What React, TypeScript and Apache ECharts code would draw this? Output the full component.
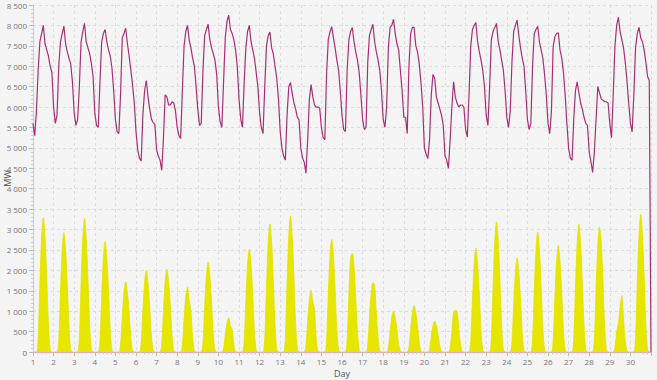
import React, { useEffect, useRef } from "react";
import * as echarts from "echarts";

// Day-of-month tick labels (1..30), axis runs to 31
const DAY_MIN = 1;
const DAY_MAX = 31;

// Electricity load (MW), sampled every 2 hours: 0h,2h,...,22h for each day
const load_d01 = [5600, 5300, 5900, 6900, 7600, 7800, 8000, 7550, 7400, 7250, 7000, 6850];
const load_d02 = [6000, 5600, 5800, 7000, 7600, 7800, 7980, 7550, 7350, 7190, 7050, 6600];
const load_d03 = [5850, 5550, 5700, 6500, 7600, 7850, 8050, 7600, 7450, 7310, 7070, 6750];
const load_d04 = [5850, 5550, 5500, 6600, 7600, 7800, 7900, 7600, 7400, 7250, 6950, 6400];
const load_d05 = [5700, 5400, 5350, 6300, 7700, 7800, 7930, 7550, 7250, 6900, 6550, 6100];
const load_d06 = [5400, 4950, 4750, 4680, 5800, 6400, 6650, 6250, 5950, 5700, 5620, 5580];
const load_d07 = [4950, 4800, 4700, 4450, 5250, 6300, 6250, 6050, 6050, 6130, 6100, 5900];
const load_d08 = [5500, 5300, 5230, 6400, 7500, 7850, 8000, 7640, 7450, 7190, 7000, 6500];
const load_d09 = [5950, 5550, 5600, 6900, 7750, 7900, 8030, 7650, 7450, 7310, 7150, 6800];
const load_d10 = [6000, 5650, 5500, 6600, 7700, 8100, 8250, 7900, 7800, 7650, 7400, 7000];
const load_d11 = [6200, 5700, 5500, 6600, 7450, 7850, 8000, 7600, 7400, 7200, 6850, 6500];
const load_d12 = [5850, 5500, 5350, 6500, 7500, 7750, 7840, 7450, 7300, 7000, 6700, 6200];
const load_d13 = [5400, 5000, 4800, 4700, 5800, 6500, 6600, 6330, 6100, 5950, 5750, 5680];
const load_d14 = [5000, 4750, 4650, 4380, 5200, 6200, 6550, 6250, 6050, 6000, 6000, 5970];
const load_d15 = [5500, 5250, 5200, 6800, 7650, 7840, 7970, 7700, 7450, 7150, 6900, 6400];
const load_d16 = [5800, 5450, 5400, 6900, 7650, 7850, 7950, 7600, 7350, 7150, 6850, 6300];
const load_d17 = [5700, 5450, 5500, 7100, 7750, 7900, 8030, 7600, 7350, 7150, 6900, 6400];
const load_d18 = [5700, 5500, 6000, 7450, 7950, 8000, 8150, 7800, 7550, 7400, 6900, 6400];
const load_d19 = [5750, 5750, 5350, 7000, 7800, 7950, 7950, 7500, 7350, 7050, 6600, 6000];
const load_d20 = [5000, 4850, 4740, 5200, 6300, 6800, 6700, 6250, 6100, 5950, 5800, 5550];
const load_d21 = [4800, 4700, 4500, 5200, 6000, 6620, 6250, 6100, 6000, 6050, 6050, 6000];
const load_d22 = [5450, 5270, 6300, 7500, 7900, 8000, 8070, 7600, 7350, 7150, 6900, 6500];
const load_d23 = [5800, 5550, 6500, 7650, 7850, 7950, 8050, 7600, 7400, 7150, 6900, 6400];
const load_d24 = [5750, 5500, 5900, 7100, 7850, 8000, 8130, 7750, 7450, 7200, 7000, 6400];
const load_d25 = [5700, 5450, 5600, 7000, 7800, 7900, 7980, 7600, 7400, 7200, 6800, 6300];
const load_d26 = [5600, 5350, 5900, 7480, 7720, 7800, 7820, 7400, 7200, 6850, 6300, 5600];
const load_d27 = [5000, 4750, 4700, 5700, 6400, 6620, 6350, 6100, 5950, 5750, 5600, 5550];
const load_d28 = [4900, 4660, 4400, 4900, 5700, 6500, 6350, 6200, 6170, 6130, 6130, 6100];
const load_d29 = [5600, 5250, 6300, 7500, 8000, 8200, 7850, 7650, 7450, 7100, 6650, 6100];
const load_d30 = [5600, 5390, 6300, 7450, 7800, 7950, 7700, 7600, 7400, 7100, 6750, 6650];
const load_end = 0;

// Solar generation (MW), same 2-hour sampling
const solar_d01 = [0, 0, 0, 330, 1650, 2800, 3290, 2800, 1810, 660, 70, 0];
const solar_d02 = [0, 0, 0, 290, 1460, 2490, 2925, 2490, 1610, 585, 60, 0];
const solar_d03 = [0, 0, 0, 330, 1640, 2780, 3270, 2780, 1800, 650, 65, 0];
const solar_d04 = [0, 0, 0, 270, 1350, 2300, 2700, 2300, 1490, 540, 55, 0];
const solar_d05 = [0, 0, 0, 170, 860, 1460, 1720, 1460, 950, 345, 35, 0];
const solar_d06 = [0, 0, 0, 200, 1000, 1690, 1990, 1690, 1090, 400, 40, 0];
const solar_d07 = [0, 0, 0, 200, 1015, 1730, 2030, 1730, 1120, 405, 40, 0];
const solar_d08 = [0, 0, 0, 160, 800, 1350, 1590, 1250, 1000, 350, 30, 0];
const solar_d09 = [0, 0, 0, 220, 1100, 1870, 2200, 1870, 1210, 440, 45, 0];
const solar_d10 = [0, 0, 0, 80, 420, 715, 840, 650, 560, 170, 15, 0];
const solar_d11 = [0, 0, 0, 250, 1260, 2140, 2520, 2140, 1390, 500, 50, 0];
const solar_d12 = [0, 0, 0, 310, 1570, 2670, 3140, 2670, 1730, 630, 60, 0];
const solar_d13 = [0, 0, 0, 330, 1670, 2830, 3330, 2830, 1830, 670, 65, 0];
const solar_d14 = [0, 0, 0, 150, 755, 1280, 1510, 1230, 1050, 300, 30, 0];
const solar_d15 = [0, 0, 0, 280, 1380, 2350, 2760, 2350, 1520, 550, 55, 0];
const solar_d16 = [0, 0, 0, 300, 1400, 2300, 2410, 2100, 1300, 480, 50, 0];
const solar_d17 = [0, 0, 0, 170, 850, 1450, 1700, 1640, 950, 340, 35, 0];
const solar_d18 = [0, 0, 0, 100, 500, 850, 1000, 850, 550, 200, 20, 0];
const solar_d19 = [0, 0, 0, 110, 570, 960, 1135, 960, 620, 230, 20, 0];
const solar_d20 = [0, 0, 0, 75, 380, 650, 760, 650, 420, 150, 15, 0];
const solar_d21 = [0, 0, 0, 100, 510, 980, 1020, 1000, 600, 200, 20, 0];
const solar_d22 = [0, 0, 0, 250, 1270, 2160, 2540, 2160, 1400, 510, 50, 0];
const solar_d23 = [0, 0, 0, 320, 1600, 2710, 3190, 2710, 1750, 640, 65, 0];
const solar_d24 = [0, 0, 0, 230, 1150, 1950, 2300, 1950, 1270, 460, 45, 0];
const solar_d25 = [0, 0, 0, 290, 1470, 2500, 2940, 2500, 1620, 590, 60, 0];
const solar_d26 = [0, 0, 0, 260, 1300, 2220, 2610, 2220, 1440, 520, 50, 0];
const solar_d27 = [0, 0, 0, 310, 1570, 2660, 3130, 2660, 1720, 630, 60, 0];
const solar_d28 = [0, 0, 0, 300, 1530, 2600, 3060, 2680, 1750, 610, 60, 0];
const solar_d29 = [0, 0, 0, 100, 500, 700, 1100, 1380, 800, 280, 30, 0];
const solar_d30 = [0, 0, 0, 340, 1690, 2860, 3370, 2860, 1850, 670, 65, 0];
const solar_end = 0;

const LOAD_DAYS = [
  load_d01, load_d02, load_d03, load_d04, load_d05, load_d06, load_d07, load_d08, load_d09, load_d10,
  load_d11, load_d12, load_d13, load_d14, load_d15, load_d16, load_d17, load_d18, load_d19, load_d20,
  load_d21, load_d22, load_d23, load_d24, load_d25, load_d26, load_d27, load_d28, load_d29, load_d30,
];
const SOLAR_DAYS = [
  solar_d01, solar_d02, solar_d03, solar_d04, solar_d05, solar_d06, solar_d07, solar_d08, solar_d09, solar_d10,
  solar_d11, solar_d12, solar_d13, solar_d14, solar_d15, solar_d16, solar_d17, solar_d18, solar_d19, solar_d20,
  solar_d21, solar_d22, solar_d23, solar_d24, solar_d25, solar_d26, solar_d27, solar_d28, solar_d29, solar_d30,
];

const SAMPLES_PER_DAY = 12;

function toPairs(days: number[][], endValue: number): [number, number][] {
  const out: [number, number][] = [];
  days.forEach((vals, d) => {
    vals.forEach((v, k) => {
      out.push([DAY_MIN + d + k / SAMPLES_PER_DAY, v]);
    });
  });
  out.push([DAY_MAX, endValue]);
  return out;
}

const fmt = (v: number) => String(v).replace(/\B(?=(\d{3})+(?!\d))/g, " ");

export default function App() {
  const ref = useRef<HTMLDivElement>(null);

  useEffect(() => {
    if (!ref.current) return;
    const chart = echarts.init(ref.current, undefined, { renderer: "svg" });
    const font = "'Open Sans', 'DejaVu Sans', sans-serif";
    chart.setOption({
      animation: false,
      backgroundColor: "#f4f4f4",
      textStyle: { fontFamily: font },
      grid: {
        left: 33,
        right: 6,
        top: 5,
        bottom: 28,
        containLabel: false,
        outerBoundsMode: "none",
      },
      xAxis: {
        type: "value",
        min: DAY_MIN,
        max: DAY_MAX,
        interval: 1,
        name: "Day",
        nameLocation: "middle",
        nameGap: 16,
        nameMoveOverlap: false,
        nameTextStyle: { color: "#555", fontSize: 9, lineHeight: 10, fontFamily: font },
        axisLine: { show: true, lineStyle: { color: "#d9a9c4", width: 1 } },
        axisTick: { show: true, length: 4, lineStyle: { color: "#bbb" } },
        minorTick: { show: true, splitNumber: 5, length: 2, lineStyle: { color: "#ccc" } },
        axisLabel: {
          color: "#777",
          fontSize: 8,
          lineHeight: 9,
          margin: 5,
          showMaxLabel: false,
          fontFamily: font,
        },
        splitLine: { show: true, lineStyle: { color: "#dddddd", type: [3, 3] } },
      },
      yAxis: {
        type: "value",
        min: 0,
        max: 8500,
        interval: 500,
        name: "MW",
        nameLocation: "middle",
        nameGap: 21,
        nameRotate: 90,
        nameMoveOverlap: false,
        nameTextStyle: { color: "#555", fontSize: 9, lineHeight: 10, fontFamily: font },
        axisLine: { show: true, lineStyle: { color: "#ccc" } },
        axisTick: { show: true, length: 4, lineStyle: { color: "#bbb" } },
        minorTick: { show: true, splitNumber: 5, length: 2, lineStyle: { color: "#ccc" } },
        axisLabel: {
          color: "#777",
          fontSize: 8,
          margin: 6,
          formatter: (v: number) => fmt(v),
          fontFamily: font,
        },
        splitLine: { show: true, lineStyle: { color: "#dddddd", type: [3, 3] } },
      },
      series: [
        {
          name: "Solar",
          type: "line",
          data: toPairs(SOLAR_DAYS, solar_end),
          showSymbol: false,
          smooth: 0.3,
          lineStyle: { color: "#e2e200", width: 0.8 },
          areaStyle: { color: "#e6e600", opacity: 1 },
          z: 2,
        },
        {
          name: "Load",
          type: "line",
          data: toPairs(LOAD_DAYS, load_end),
          showSymbol: false,
          lineStyle: { color: "#a8306e", width: 1.2 },
          z: 3,
        },
      ],
    });
    return () => chart.dispose();
  }, []);

  return (
    <div
      ref={ref}
      style={{ position: "absolute", left: 0, top: 0, width: 657, height: 380, background: "#f4f4f4" }}
    />
  );
}
